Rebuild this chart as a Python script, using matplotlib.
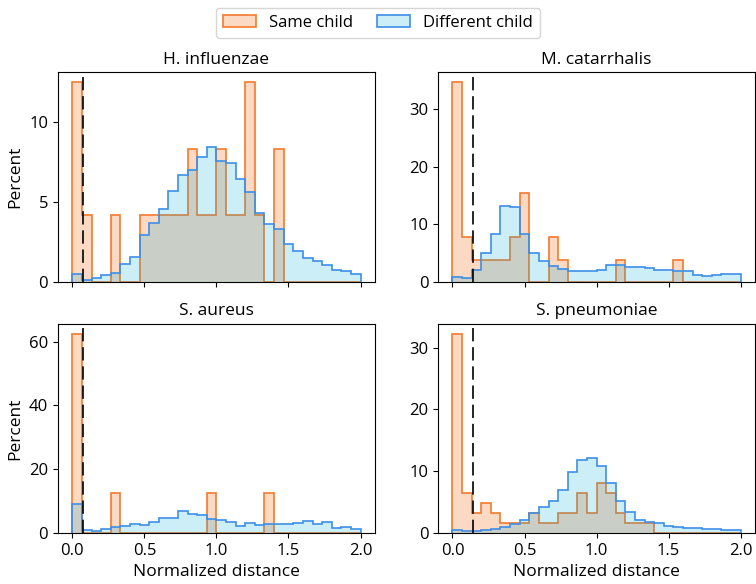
import numpy as np
import matplotlib.pyplot as plt
from matplotlib.patches import Patch

plt.rcParams['font.family'] = ['Open Sans', 'DejaVu Sans']

# 30 bins of width 1/15 over [0, 2]
edges = np.linspace(0, 2, 31)

titles = ["H. influenzae", "M. catarrhalis", "S. aureus", "S. pneumoniae"]
cutoffs = [0.072, 0.141, 0.072, 0.141]

# percent per bin
hinf_same = [12.5, 4.17, 0, 0, 4.17, 0, 0, 4.17, 4.17, 4.17, 4.17, 4.17, 8.33, 4.17, 4.17,
             8.33, 4.17, 4.17, 12.5, 4.17, 0, 8.33, 0, 0, 0, 0, 0, 0, 0, 0]
hinf_diff = [0.46, 0.13, 0.25, 0.44, 0.56, 1.09, 1.57, 2.91, 3.66, 4.54, 5.69, 6.72, 7.03, 7.85, 8.45,
             7.55, 7.47, 6.46, 5.63, 4.31, 3.60, 3.28, 2.38, 1.90, 1.51, 1.32, 1.03, 0.73, 0.67, 0.48]

mcat_same = [34.6, 7.69, 3.85, 3.85, 3.85, 3.85, 7.69, 15.38, 0, 0, 7.69, 3.85, 0, 0, 0,
             0, 0, 3.85, 0, 0, 0, 0, 0, 3.85, 0, 0, 0, 0, 0, 0]
mcat_diff = [0.81, 0.64, 1.97, 5.03, 8.27, 13.2, 12.9, 8.27, 4.97, 3.58, 2.66, 2.14, 1.79, 1.85, 1.79,
             2.08, 2.9, 2.95, 2.54, 2.54, 2.31, 2.02, 1.97, 1.9, 1.85, 1.21, 1.04, 1.1, 1.33, 1.33]

saur_same = [62.5, 0, 0, 0, 12.5, 0, 0, 0, 0, 0, 0, 0, 0, 0, 12.5,
             0, 0, 0, 0, 0, 12.5, 0, 0, 0, 0, 0, 0, 0, 0, 0]
saur_diff = [9.0, 0.84, 0.73, 1.26, 2.0, 2.2, 2.72, 2.4, 3.46, 4.8, 4.8, 6.9, 5.9, 5.6, 4.3,
             4.1, 3.46, 2.3, 3.0, 2.6, 2.8, 2.8, 2.9, 3.2, 3.66, 2.9, 3.35, 1.7, 2.0, 1.36]

spne_same = [32.26, 6.45, 3.23, 4.84, 3.23, 1.61, 1.61, 1.61, 3.23, 1.61, 1.61, 3.23, 3.23, 6.45, 3.23,
             8.06, 6.45, 3.23, 1.61, 1.61, 1.61, 0, 0, 0, 0, 0, 0, 0, 0, 0]
spne_diff = [0.54, 0.33, 0.38, 0.49, 0.6, 1.03, 1.41, 2.12, 3.26, 4.13, 5.1, 6.9, 9.9, 11.8, 12.2,
             10.8, 8.1, 5.1, 3.37, 2.12, 1.74, 1.58, 1.2, 0.98, 0.82, 0.82, 0.65, 0.6, 0.54, 0.43]

same = [hinf_same, mcat_same, saur_same, spne_same]
diff = [hinf_diff, mcat_diff, saur_diff, spne_diff]

orange = '#f47a2c'
orange_fill = (0.97, 0.47, 0.16, 0.28)
blue = '#3d8ee8'
blue_fill = (0.0, 0.67, 0.84, 0.2)

fig, axes = plt.subplots(2, 2, figsize=(7.56, 5.84), dpi=100, sharex=True)
fig.subplots_adjust(left=0.0766, right=0.9988, top=0.876, bottom=0.0873, wspace=0.199, hspace=0.2)

for i, ax in enumerate(axes.flat):
    ax.stairs(same[i], edges, fill=True, facecolor=orange_fill, edgecolor='none')
    ax.stairs(same[i], edges, color=orange, linewidth=1.2)
    ax.stairs(diff[i], edges, fill=True, facecolor=blue_fill, edgecolor='none')
    ax.stairs(diff[i], edges, color=blue, linewidth=1.2)
    ax.axvline(cutoffs[i], color='black', linestyle=(0, (8, 3.5)), linewidth=1.2)
    ax.set_xlim(-0.1, 2.1)
    ax.set_ylim(0, max(max(same[i]), max(diff[i])) * 1.05)
    ax.set_title(titles[i], fontsize=12.5)
    ax.set_xticks([0, 0.5, 1.0, 1.5, 2.0])
    ax.tick_params(labelsize=12)

axes[1, 0].set_xticklabels(['0.0', '0.5', '1.0', '1.5', '2.0'])
axes[0, 0].set_yticks([0, 5, 10])
axes[0, 1].set_yticks([0, 10, 20, 30])
axes[1, 0].set_yticks([0, 20, 40, 60])
axes[1, 1].set_yticks([0, 10, 20, 30])

for ax in axes[:, 0]:
    ax.set_ylabel("Percent", fontsize=12.5)
for ax in axes[1, :]:
    ax.set_xlabel("Normalized distance", fontsize=12.5)

handles = [Patch(facecolor=orange_fill, edgecolor=orange, linewidth=1.2),
           Patch(facecolor=blue_fill, edgecolor=blue, linewidth=1.2)]
fig.legend(handles, ["Same child", "Different child"], loc='upper center',
           bbox_to_anchor=(0.5, 1.0), ncol=2, fontsize=12, handlelength=2.0, columnspacing=1.4)

fig.savefig("out.png", dpi=100)
plt.close(fig)
